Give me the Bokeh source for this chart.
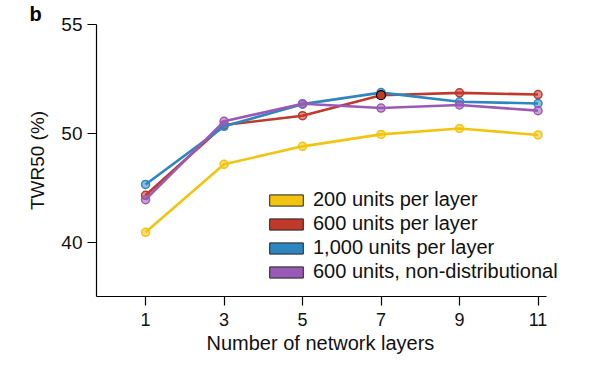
from bokeh.plotting import figure
from bokeh.models import (ColumnDataSource, Range1d, FixedTicker, Legend, LegendItem,
                          CustomJSTransform, CDSView, IndexFilter, Title)
from bokeh.transform import transform
from bokeh.embed import file_html
from bokeh.resources import INLINE

# ---- data (TWR50 %) ----
layers = [1, 3, 5, 7, 9, 11]
units_200 = [40.9, 47.15, 48.8, 49.9, 50.22, 49.85]
units_600 = [44.3, 50.38, 50.81, 51.75, 51.86, 51.78]
units_1000 = [45.3, 50.32, 51.34, 51.87, 51.45, 51.37]
units_600_nondist = [43.9, 50.55, 51.36, 51.16, 51.30, 51.04]

series_names = ["200 units per layer", "600 units per layer",
                "1,000 units per layer", "600 units, non-distributional"]
x_ticks = [1, 3, 5, 7, 9, 11]
y_tick_labels = ["40", "50", "55"]
x_label = "Number of network layers"
y_label = "TWR50 (%)"
panel_letter = "b"

colors = ["#F1C40F", "#C0392B", "#2E86C1", "#9B59B6"]
FONT = "Liberation Sans"

# The reference y axis is piecewise: 40->50 spans the same height as 50->55.
ytf = CustomJSTransform(v_func="return Array.from(xs, (v) => v <= 50 ? v : 50 + 2*(v - 50));")
tick_pos = [40, 50, 60]

# frame extends a bit past the x axis end so legend text is not clipped
p = figure(width=584, height=366, output_backend="svg", toolbar_location=None,
           x_range=Range1d(-0.25, 11.93), y_range=Range1d(35, 60),
           min_border_left=96, min_border_top=24, min_border_right=10, min_border_bottom=70)
p.outline_line_color = None
p.grid.visible = False
p.background_fill_color = "white"
p.border_fill_color = "white"

series = [units_200, units_600, units_1000, units_600_nondist]
sources = []
for vals, c in zip(series, colors):
    src = ColumnDataSource(dict(x=layers, y=vals))
    sources.append(src)
    p.line("x", transform("y", ytf), source=src, line_color=c, line_width=2.6)
    p.scatter("x", transform("y", ytf), source=src, size=8, marker="circle",
              line_color=c, line_width=1.5, fill_color=c, fill_alpha=0.55)

# highlighted point (600 units, 7 layers)
p.scatter("x", transform("y", ytf), source=sources[1], view=CDSView(filter=IndexFilter([3])),
          size=9, marker="circle", line_color="black", line_width=1.2, fill_color=colors[1])

# legend with filled boxes (dummy renderers with a single NaN entry)
nan = float("nan")
items = []
for name, c in zip(series_names, colors):
    r = p.quad(left=[nan], right=[nan], top=[nan], bottom=[nan],
               fill_color=c, line_color="#222222", line_width=1)
    items.append(LegendItem(label=name, renderers=[r]))
legend = Legend(items=items, location=(169, 13), orientation="vertical",
                glyph_width=42, glyph_height=14, label_standoff=6, spacing=1,
                label_height=20, padding=0, margin=0,
                border_line_color=None, background_fill_alpha=0,
                label_text_font=FONT, label_text_font_size="20px", label_text_color="#111111")
p.add_layout(legend, "center")

# axes
for ax in (p.xaxis[0], p.yaxis[0]):
    ax.axis_line_color = "black"
    ax.axis_line_width = 1.2
    ax.major_tick_line_color = "black"
    ax.major_tick_line_width = 1.2
    ax.major_tick_in = 0
    ax.major_tick_out = 9
    ax.minor_tick_line_color = None
    ax.major_label_text_font = FONT
    ax.major_label_text_color = "#111111"
    ax.axis_label_text_font = FONT
    ax.axis_label_text_font_style = "normal"
    ax.axis_label_text_color = "#111111"

p.xaxis.ticker = FixedTicker(ticks=x_ticks)
p.xaxis.bounds = (-0.25, 11.22)
p.xaxis.major_label_text_font_size = "18px"
p.xaxis.major_label_standoff = 7

# x axis title, centred under the drawn axis line (not the wider frame)
p.add_layout(Title(text=x_label, align="left", offset=110, standoff=2,
                   text_font=FONT, text_font_size="20px", text_font_style="normal",
                   text_color="#111111"), "below")

p.yaxis.ticker = FixedTicker(ticks=tick_pos)
p.yaxis.major_label_overrides = {t: lab for t, lab in zip(tick_pos, y_tick_labels)}
p.yaxis.major_label_text_font_size = "19px"
p.yaxis.major_label_standoff = 5
p.yaxis.axis_label = y_label
p.yaxis.axis_label_text_font_size = "19px"
p.yaxis.axis_label_standoff = 10

# panel letter as title (small enough not to push the frame down)
p.title.text = panel_letter
p.title.align = "left"
p.title.offset = -67
p.title.standoff = 0
p.title.text_font = FONT
p.title.text_font_size = "20px"
p.title.text_line_height = 0.9
p.title.text_font_style = "bold"
p.title.text_color = "black"
p.title.vertical_align = "bottom"

open("out.html", "w").write(file_html(p, INLINE))
